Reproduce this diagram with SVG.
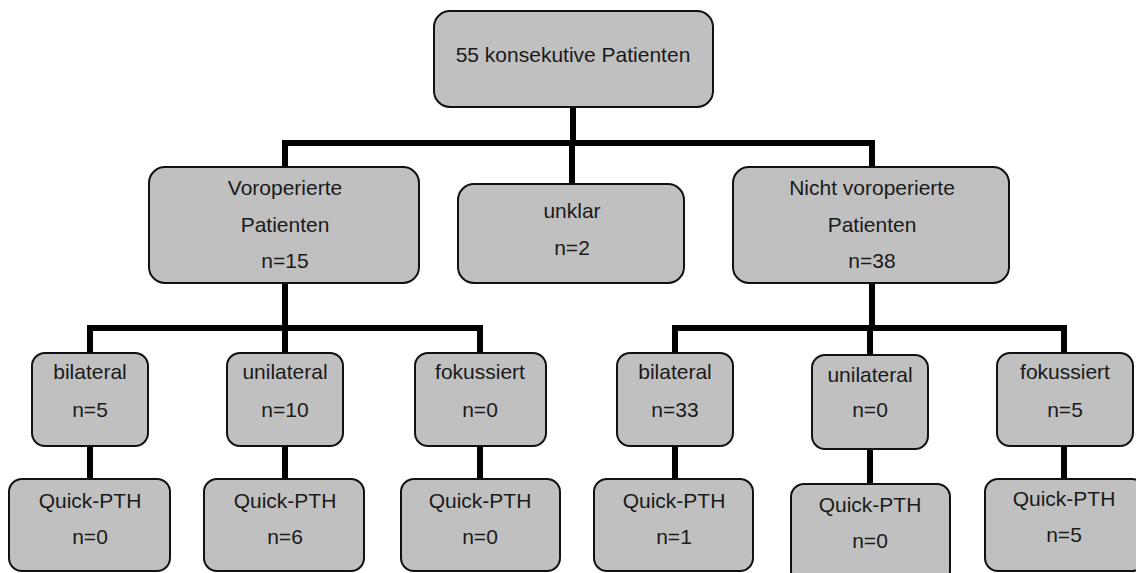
<svg xmlns="http://www.w3.org/2000/svg" width="1136" height="573" viewBox="0 0 1136 573">
<style>
.box{fill:#c0c0c0;stroke:#111;stroke-width:2}
.t{font-family:"Liberation Sans",Arial,sans-serif;font-size:21px;fill:#1a1a1a;text-anchor:middle}
.c{stroke:#000;stroke-width:6;fill:none}
</style>
<rect width="1136" height="573" fill="#fff"/>
<g id="connectors">
<path class="c" d="M573 107V143M285 143H872M285 140V168M572 143V185M872 140V168"/>
<path class="c" d="M285 283V328M90 328H483M90 325V354M285 328V354M480 325V354"/>
<path class="c" d="M872 283V328M675 328H1067M675 325V354M870 328V356M1064 325V354"/>
<path class="c" d="M90 446V480M285 446V480M480 446V480M675 446V480M870 449V485M1064 446V480"/>
</g>
<g id="n-root"><rect class="box" x="434" y="11" width="279" height="96" rx="16"/><text class="t" x="573" y="62">55 konsekutive Patienten</text></g>
<g id="n-vor"><rect class="box" x="149" y="167" width="270" height="116" rx="16"/><text class="t" x="285" y="195">Voroperierte</text><text class="t" x="285" y="232">Patienten</text><text class="t" x="285" y="268">n=15</text></g>
<g id="n-unklar"><rect class="box" x="458" y="184" width="226" height="99" rx="16"/><text class="t" x="572" y="218">unklar</text><text class="t" x="572" y="255">n=2</text></g>
<g id="n-nicht"><rect class="box" x="733" y="167" width="276" height="116" rx="16"/><text class="t" x="872" y="195">Nicht voroperierte</text><text class="t" x="872" y="232">Patienten</text><text class="t" x="872" y="268">n=38</text></g>
<g id="n-bil1"><rect class="box" x="32" y="353" width="116" height="93" rx="13"/><text class="t" x="90" y="379">bilateral</text><text class="t" x="90" y="417">n=5</text></g>
<g id="n-uni1"><rect class="box" x="227" y="353" width="116" height="93" rx="13"/><text class="t" x="285" y="379">unilateral</text><text class="t" x="285" y="417">n=10</text></g>
<g id="n-fok1"><rect class="box" x="415" y="353" width="131" height="93" rx="13"/><text class="t" x="480" y="379">fokussiert</text><text class="t" x="480" y="417">n=0</text></g>
<g id="n-bil2"><rect class="box" x="617" y="353" width="116" height="93" rx="13"/><text class="t" x="675" y="379">bilateral</text><text class="t" x="675" y="417">n=33</text></g>
<g id="n-uni2"><rect class="box" x="812" y="355" width="116" height="94" rx="13"/><text class="t" x="870" y="382">unilateral</text><text class="t" x="870" y="417">n=0</text></g>
<g id="n-fok2"><rect class="box" x="997" y="353" width="136" height="93" rx="13"/><text class="t" x="1065" y="379">fokussiert</text><text class="t" x="1065" y="417">n=5</text></g>
<g id="n-q1"><rect class="box" x="9" y="479" width="161" height="92" rx="13"/><text class="t" x="90" y="508">Quick-PTH</text><text class="t" x="90" y="544">n=0</text></g>
<g id="n-q2"><rect class="box" x="204" y="479" width="160" height="92" rx="13"/><text class="t" x="285" y="508">Quick-PTH</text><text class="t" x="285" y="544">n=6</text></g>
<g id="n-q3"><rect class="box" x="401" y="479" width="159" height="92" rx="13"/><text class="t" x="480" y="508">Quick-PTH</text><text class="t" x="480" y="544">n=0</text></g>
<g id="n-q4"><rect class="box" x="594" y="479" width="159" height="92" rx="13"/><text class="t" x="674" y="508">Quick-PTH</text><text class="t" x="674" y="544">n=1</text></g>
<g id="n-q5"><rect class="box" x="791" y="484" width="159" height="100" rx="13"/><text class="t" x="870" y="512">Quick-PTH</text><text class="t" x="870" y="548">n=0</text></g>
<g id="n-q6"><rect class="box" x="985" y="479" width="160" height="92" rx="13"/><text class="t" x="1064" y="506">Quick-PTH</text><text class="t" x="1064" y="542">n=5</text></g>
</svg>
